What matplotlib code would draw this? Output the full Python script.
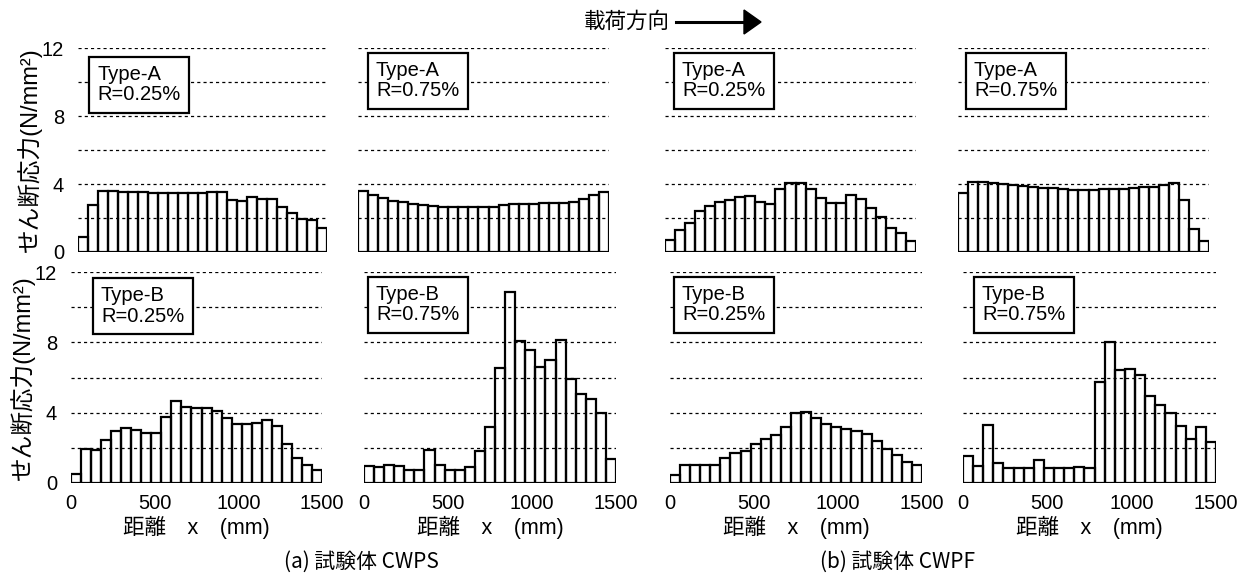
import numpy as np
import matplotlib.pyplot as plt

plt.rcParams['font.family'] = ['Liberation Sans', 'Noto Sans CJK JP']

# bar centres along the wall (mm), 25 segments of 60 mm
x_pos = np.arange(30, 1500, 60)

# shear stress (N/mm2)
cwps_a = [0.86, 2.76, 3.56, 3.56, 3.54, 3.52, 3.50, 3.48, 3.48, 3.48, 3.48, 3.48, 3.48,
          3.50, 3.52, 3.08, 3.00, 3.24, 3.12, 3.14, 2.62, 2.32, 1.94, 1.88, 1.40]
cwps_a2 = [3.56, 3.36, 3.16, 3.00, 2.92, 2.84, 2.76, 2.70, 2.64, 2.64, 2.62, 2.62, 2.62,
           2.64, 2.74, 2.84, 2.84, 2.84, 2.86, 2.88, 2.90, 2.96, 3.10, 3.34, 3.52]
cwpf_a = [0.73, 1.32, 1.72, 2.43, 2.72, 2.94, 3.06, 3.23, 3.29, 2.92, 2.80, 3.70, 4.08,
          4.08, 3.70, 3.20, 2.86, 2.86, 3.35, 3.10, 2.56, 2.07, 1.42, 1.12, 0.65]
cwpf_a2 = [3.46, 4.14, 4.10, 4.04, 4.00, 3.94, 3.88, 3.82, 3.78, 3.74, 3.68, 3.64, 3.64,
           3.66, 3.70, 3.70, 3.72, 3.78, 3.80, 3.84, 3.92, 4.06, 3.04, 1.34, 0.66]
cwps_b = [0.49, 1.92, 1.90, 2.43, 2.97, 3.10, 3.00, 2.85, 2.87, 3.73, 4.64, 4.33, 4.24,
          4.28, 4.09, 3.69, 3.35, 3.35, 3.44, 3.57, 3.27, 2.20, 1.44, 1.00, 0.72]
cwps_b2 = [0.97, 0.91, 1.03, 0.95, 0.72, 0.72, 1.85, 1.03, 0.72, 0.72, 0.93, 1.81, 3.20,
           6.53, 10.86, 8.10, 7.58, 6.57, 6.97, 8.15, 5.90, 5.07, 4.78, 4.00, 1.35]
cwpf_b = [0.44, 1.00, 1.00, 1.00, 1.00, 1.43, 1.71, 1.83, 2.20, 2.53, 2.72, 3.20, 3.96,
          4.06, 3.68, 3.35, 3.20, 3.07, 2.97, 2.78, 2.38, 1.96, 1.58, 1.22, 1.00]
cwpf_b2 = [1.54, 0.97, 3.30, 1.14, 0.88, 0.88, 0.88, 1.30, 0.88, 0.88, 0.88, 0.91, 0.88,
           5.73, 8.00, 6.44, 6.50, 6.15, 4.97, 4.44, 3.96, 3.26, 2.53, 3.16, 2.34]

panel_data = [[cwps_a, cwps_a2, cwpf_a, cwpf_a2],
              [cwps_b, cwps_b2, cwpf_b, cwpf_b2]]
panel_labels = [['Type-A\nR=0.25%', 'Type-A\nR=0.75%', 'Type-A\nR=0.25%', 'Type-A\nR=0.75%'],
                ['Type-B\nR=0.25%', 'Type-B\nR=0.75%', 'Type-B\nR=0.25%', 'Type-B\nR=0.75%']]

W, H = 1246, 574
fig = plt.figure(figsize=(W / 100, H / 100), dpi=100)

# axes extents in pixels: (x_left, x_right) per panel, (y_zero, y_top) per row
x_extent = [[(78, 327), (358, 609), (665, 916), (958, 1209)],
            [(71, 322), (364, 616), (670, 922), (963, 1216)]]
y_extent = [(252, 48), (483, 272)]
box_corner = [[(88, 57), (367, 53), (673, 53), (965, 53)],
              [(92, 278), (367, 277), (673, 277), (973, 277)]]

FS = 14.5
grid_style = dict(color='black', linewidth=0.9, linestyle=(0, (2.5, 2.5)))
for r in range(2):
    y0, y1 = y_extent[r]
    for c in range(4):
        x0, x1 = x_extent[r][c]
        ax = fig.add_axes([x0 / W, 1 - y0 / H, (x1 - x0) / W, (y0 - y1) / H])
        ax.bar(x_pos, panel_data[r][c], width=60, facecolor='none',
               edgecolor='black', linewidth=1.6, zorder=3)
        ax.set_xlim(0, 1500)
        ax.set_ylim(0, 12)
        for s in ax.spines.values():
            s.set_visible(False)
        ax.set_yticks([0, 4, 8, 12])
        ax.set_yticks([2, 6, 10], minor=True)
        ax.yaxis.grid(True, which='both', **grid_style)
        ax.tick_params(which='both', length=0, labelsize=FS, pad=10)
        if c > 0:
            ax.set_yticklabels([])
        else:
            ax.set_ylabel('せん断応力(N/mm²)', fontsize=17, labelpad=0)
        if r == 0:
            ax.set_xticks([])
        else:
            ax.set_xticks([0, 500, 1000, 1500])
            ax.tick_params(axis='x', pad=8)
            ax.set_xlabel('距離\u3000x\u3000(mm)', fontsize=15.5, labelpad=2)
        bx, by = box_corner[r][c]
        fig.text((bx + 9) / W, 1 - (by + 8) / H, panel_labels[r][c], fontsize=FS,
                 ha='left', va='top', linespacing=1.1, zorder=10,
                 bbox=dict(boxstyle='square,pad=0.42', fc='white', ec='black', lw=1.6))

fig.text(361 / W, 1 - 562 / H, '(a) 試験体 CWPS', fontsize=15, ha='center', va='center',
         family=['Noto Sans CJK JP'])
fig.text(898 / W, 1 - 562 / H, '(b) 試験体 CWPF', fontsize=15, ha='center', va='center',
         family=['Noto Sans CJK JP'])

# loading direction arrow
fig.text(670 / W, 1 - 22 / H, '載荷方向', fontsize=15.5, ha='right', va='center',
         family=['Noto Sans CJK JP'])
fig.add_artist(plt.Line2D([676 / W, 748 / W], [1 - 22 / H, 1 - 22 / H],
                          color='black', linewidth=2.2))
fig.add_artist(plt.Polygon([[744 / W, 1 - 10 / H], [761 / W, 1 - 22 / H], [744 / W, 1 - 34 / H]],
                           closed=True, color='black'))

fig.savefig('out.png', dpi=100)
